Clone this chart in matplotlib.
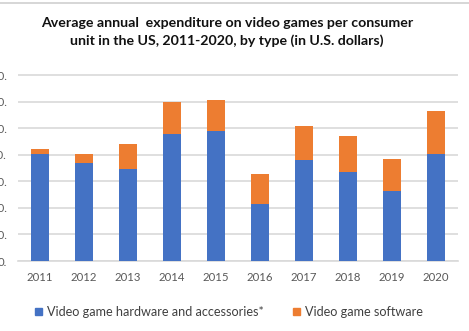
import numpy as np
import matplotlib
matplotlib.use('Agg')
from matplotlib import pyplot as plt
from matplotlib.lines import Line2D
from matplotlib.patches import Patch

plt.rcParams['font.family'] = ['Lato', 'DejaVu Sans']

years = ['2011', '2012', '2013', '2014', '2015', '2016', '2017', '2018', '2019', '2020']
hardware = [40.3, 37.0, 34.5, 47.8, 48.8, 21.5, 38.0, 33.4, 26.5, 40.3]
software = [1.9, 3.2, 9.7, 12.2, 11.8, 11.2, 12.7, 13.6, 11.8, 16.3]
yticks = [0, 10, 20, 30, 40, 50, 60, 70]

blue = '#4472C4'
orange = '#ED7D31'
grey_text = '#595959'

W, H = 469, 331
fig = plt.figure(figsize=(W / 100, H / 100), dpi=100)
# plot area in pixels: x 18..458, y 75 (70) .. 261 (0)
y0, y70 = 261, 75
ymax = 71
px_per = (y0 - y70) / 70
top_px = y0 - ymax * px_per
ax = fig.add_axes([18 / W, (H - y0) / H, 440 / W, (y0 - top_px) / H])

x = np.arange(len(years))
ax.bar(x, hardware, width=0.4, color=blue, zorder=3)
ax.bar(x, software, width=0.4, bottom=hardware, color=orange, zorder=3)

ax.set_xlim(-0.5, 9.5)
ax.set_ylim(0, ymax)
ax.set_yticks(yticks)
ax.set_yticklabels([f'{v}.' for v in yticks])
ax.set_xticks(x)
ax.set_xticklabels(years)
ax.yaxis.grid(True, color='#d9d9d9', linewidth=1.2, zorder=0)
for s in ['top', 'right', 'left']:
    ax.spines[s].set_visible(False)
ax.spines['bottom'].set_color('#d9d9d9')
ax.spines['bottom'].set_linewidth(1.2)
ax.tick_params(axis='both', length=0, colors=grey_text, labelsize=8.2)
ax.tick_params(axis='y', pad=8)
ax.tick_params(axis='x', pad=8)

fig.text(0.484, 0.902,
         'Average annual  expenditure on video games per consumer\n'
         'unit in the US, 2011-2020, by type (in U.S. dollars)',
         ha='center', va='center', fontsize=10.2, fontweight='bold',
         color='#111111', linespacing=1.5)

handles = [Patch(color=blue), Patch(color=orange)]
fig.legend(handles, ['Video game hardware and accessories*', 'Video game software'],
           loc='center', bbox_to_anchor=(0.488, 0.057), ncol=2, frameon=False,
           fontsize=9.1, handlelength=0.55, handleheight=0.55, handletextpad=0.4,
           columnspacing=2.3, labelcolor='#404040')

# thin border line along the top edge
fig.add_artist(Line2D([0, 1], [1 - 3 / H, 1 - 3 / H], color='#d0d0d0', linewidth=1.2))

fig.savefig('out.png', dpi=100)
